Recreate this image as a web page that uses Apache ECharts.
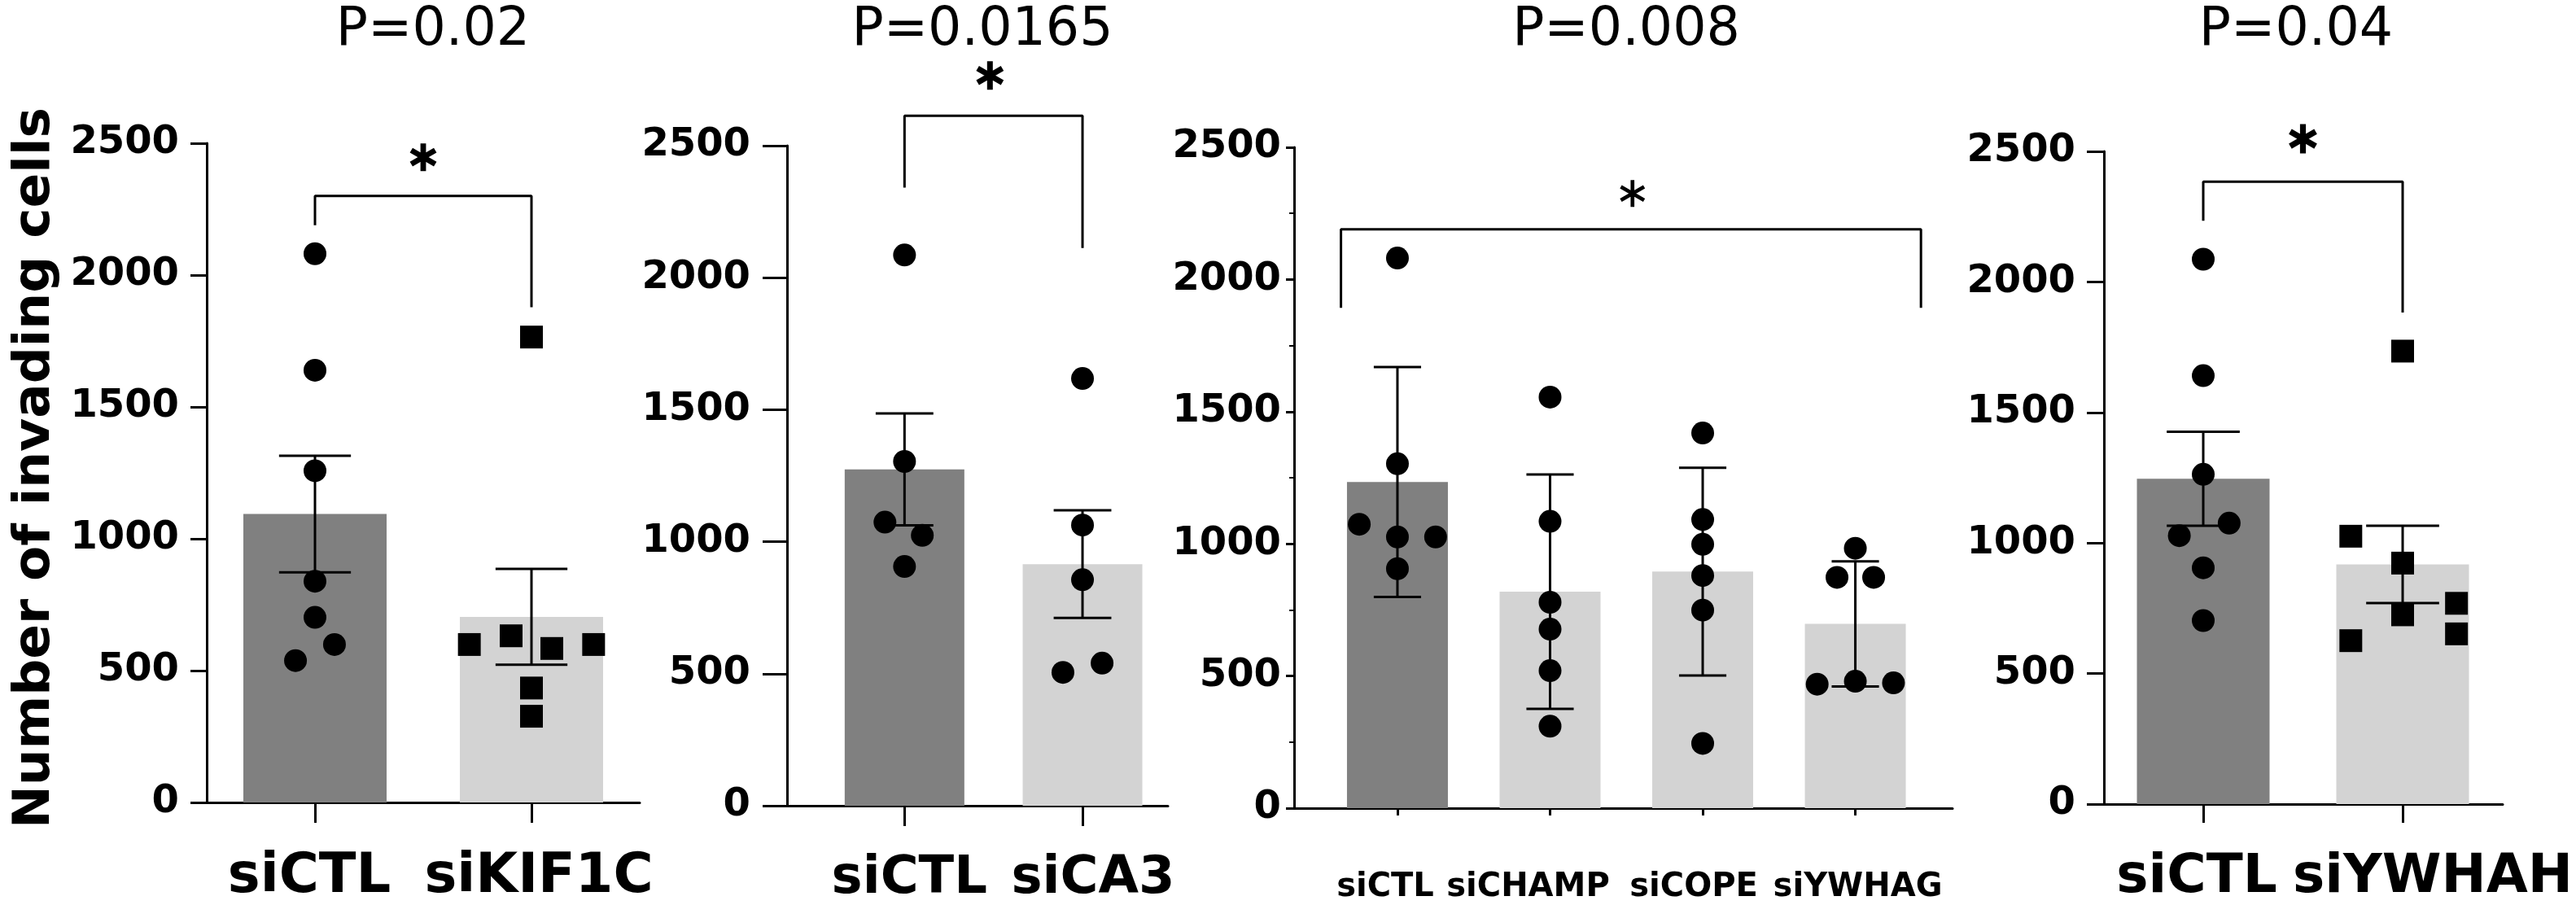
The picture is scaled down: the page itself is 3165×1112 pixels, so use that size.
<!DOCTYPE html>
<html><head><meta charset="utf-8">
<script src="https://cdn.jsdelivr.net/npm/echarts@6/dist/echarts.min.js"></script>
<style>html,body{margin:0;padding:0;background:#fff}#c{width:3165px;height:1112px}</style>
</head><body><div id="c"></div>
<script>
// ---------- DATA ----------
const titles = ['P=0.02', 'P=0.0165', 'P=0.008', 'P=0.04'];
const yTitle = 'Number of invading cells';

// Panel 1
const cats1 = ['siCTL', 'siKIF1C'];
const mean1 = [1094, 704];
const err1 = [221, 182];
const pts1 = [[2081, 1639, 1258, 839, 702, 599, 538], [599, 632, 584, 599, 434, 327, 1765]];
const jit1 = [[0, 0, 0, 0, 0, 0.09, -0.09], [-0.287, -0.094, 0.094, 0.287, 0, 0, 0]];
const bracket1 = [[0, 2189], [0, 2300], [1, 2300], [1, 1878]];
const star1 = [0.5, 2447];

// Panel 2
const cats2 = ['siCTL', 'siCA3'];
const mean2 = [1274, 915];
const err2 = [212, 204];
const pts2 = [[2086, 1304, 1074, 1024, 906], [1618, 1063, 856, 505, 540]];
const jit2 = [[0, 0, -0.11, 0.10, 0], [0, 0, 0, -0.11, 0.11]];
const bracket2 = [[0, 2341], [0, 2613], [1, 2613], [1, 2112]];
const star2 = [0.48, 2766];

// Panel 3
const cats3 = ['siCTL', 'siCHAMP', 'siCOPE', 'siYWHAG'];
const mean3 = [1234, 819, 895, 697];
const err3 = [435, 443, 393, 237];
const pts3 = [[2081, 1303, 1074, 1026, 1026, 906], [1555, 1085, 779, 677, 520, 310],
              [1419, 1092, 998, 880, 749, 245], [983, 873, 873, 469, 480, 474]];
const jit3 = [[0, 0, -0.25, 0, 0.25, 0], [0, 0, 0, 0, 0, 0], [0, 0, 0, 0, 0, 0], [0, -0.12, 0.12, -0.25, 0, 0.25]];
const bracket3 = [[-0.37, 1893], [-0.37, 2190], [3.43, 2190], [3.43, 1893]];
const star3 = [1.54, 2325];

// Panel 4
const cats4 = ['siCTL', 'siYWHAH'];
const mean4 = [1246, 918];
const err4 = [180, 148];
const pts4 = [[2087, 1641, 1263, 1076, 1028, 905, 703], [1735, 1026, 923, 725, 769, 626, 652]];
const jit4 = [[0, 0, 0, 0.13, -0.12, 0, 0], [0, -0.26, 0, 0, 0.27, -0.26, 0.27]];
const bracket4 = [[0, 2234], [0, 2384], [1, 2384], [1, 1883]];
const star4 = [0.5, 2548];

const yTicks = [0, 500, 1000, 1500, 2000, 2500];

// ---------- STYLE / LAYOUT ----------
const FONT = 'DejaVu Sans';
const DARK = '#808080', LIGHT = '#d3d3d3';

function asterisk(hw) {
  let d = '';
  [90, 30, 150].forEach(function (deg) {
    const t = deg * Math.PI / 180;
    const u = [Math.cos(t), Math.sin(t)], n = [-Math.sin(t), Math.cos(t)];
    const pts = [[-1, -1], [1, -1], [1, 1], [-1, 1]].map(function (s) {
      return [50 + s[0] * 50 * u[0] + s[1] * hw * n[0], 50 + s[0] * 50 * u[1] + s[1] * hw * n[1]];
    });
    d += 'M' + pts.map(function (p) { return p[0].toFixed(2) + ',' + p[1].toFixed(2); }).join('L') + 'Z';
  });
  return 'path://' + d;
}

const panels = [
  {cats: cats1, means: mean1, errs: err1, pts: pts1, jit: jit1, marks: ['circle', 'rect'], bracket: bracket1, star: star1,
   grid: {left: 254, top: 176, width: 532, height: 813}, xr: [-0.5, 1.5], bw: 176, lab: 67, shift: [-7, 9], lm: 59,
   yTick: 20, yMargin: 34, xTick: 25, starSize: 34, starHW: 10, titleX: 532, minor: false, cap: 0.166},
  {cats: cats2, means: mean2, errs: err2, pts: pts2, jit: jit2, marks: ['circle', 'circle'], bracket: bracket2, star: star2,
   grid: {left: 967, top: 179, width: 468, height: 814}, xr: [-0.66, 1.48], bw: 147, lab: 64, shift: [6, 13], lm: 58,
   yTick: 30, yMargin: 45, xTick: 25, starSize: 35, starHW: 10, titleX: 1207, minor: false, cap: 0.162},
  {cats: cats3, means: mean3, errs: err3, pts: pts3, jit: jit3, marks: ['circle', 'circle', 'circle', 'circle'], bracket: bracket3, star: star3,
   grid: {left: 1590, top: 181, width: 809, height: 812}, xr: [-0.677, 3.637], bw: 124, lab: 40, shift: [-15, -27, -11, 3], lm: 78,
   yTick: 10, yMargin: 16, xTick: 9, starSize: 33, starHW: 7, titleX: 1998, minor: true, cap: 0.155},
  {cats: cats4, means: mean4, errs: err4, pts: pts4, jit: jit4, marks: ['circle', 'rect'], bracket: bracket4, star: star4,
   grid: {left: 2585, top: 186, width: 490, height: 807}, xr: [-0.498, 1.502], bw: 163, lab: 66, shift: [-8, 37], lm: 58,
   yTick: 21, yMargin: 35, xTick: 23, starSize: 36, starHW: 10, titleX: 2821, minor: false, cap: 0.183}
];

const grids = [], xAxes = [], yAxes = [], series = [], graphics = [];
const axisLine = {show: true, onZero: false, lineStyle: {color: '#000', width: 3}};

panels.forEach(function (P, gi) {
  grids.push(Object.assign({containLabel: false}, P.grid));
  const idx = P.cats.map(function (_, i) { return i; });
  const rich = {};
  P.cats.forEach(function (c, i) {
    const s = P.shift[i];
    rich['s' + i] = {fontFamily: FONT, fontWeight: 'bold', fontSize: P.lab, color: '#000',
      padding: [0, s < 0 ? -2 * s : 0, 0, s > 0 ? 2 * s : 0]};
  });
  xAxes.push({
    type: 'value', gridIndex: gi, min: P.xr[0], max: P.xr[1], position: 'bottom',
    axisLine: axisLine,
    axisTick: {show: true, customValues: idx, length: P.xTick, lineStyle: {color: '#000', width: 3}},
    axisLabel: {show: true, customValues: idx, margin: P.lm, verticalAlign: 'top',
      formatter: function (v) { const i = Math.round(v); return '{s' + i + '|' + P.cats[i] + '}'; },
      rich: rich},
    splitLine: {show: false}
  });
  yAxes.push({
    type: 'value', gridIndex: gi, position: 'left',
    min: yTicks[0], max: yTicks[yTicks.length - 1], interval: yTicks[1] - yTicks[0],
    axisLine: axisLine,
    axisTick: {show: true, length: P.yTick, lineStyle: {color: '#000', width: 3}},
    minorTick: {show: P.minor, splitNumber: 2, length: 6, lineStyle: {color: '#000', width: 2}},
    axisLabel: {margin: P.yMargin, fontFamily: FONT, fontWeight: 'bold', fontSize: 48, color: '#000',
      formatter: function (v) { return String(v); }},
    splitLine: {show: false}
  });
  // bars
  series.push({
    type: 'bar', xAxisIndex: gi, yAxisIndex: gi, barWidth: P.bw, z: 1, silent: true,
    data: P.means.map(function (m, i) { return {value: [i, m], itemStyle: {color: i === 0 ? DARK : LIGHT}}; })
  });
  // error bars
  const cap = P.cap;
  series.push({
    type: 'custom', xAxisIndex: gi, yAxisIndex: gi, z: 3, clip: false, silent: true,
    data: P.means.map(function (m, i) { return [i, m, P.errs[i]]; }),
    renderItem: function (params, api) {
      const x = api.value(0), m = api.value(1), e = api.value(2);
      const t = api.coord([x, m + e]), b = api.coord([x, m - e]);
      const l = api.coord([x - cap, m])[0], r = api.coord([x + cap, m])[0];
      const st = {stroke: '#000', lineWidth: 3, fill: null};
      return {type: 'group', children: [
        {type: 'line', shape: {x1: t[0], y1: t[1], x2: b[0], y2: b[1]}, style: st},
        {type: 'line', shape: {x1: l, y1: t[1], x2: r, y2: t[1]}, style: st},
        {type: 'line', shape: {x1: l, y1: b[1], x2: r, y2: b[1]}, style: st}
      ]};
    }
  });
  // points
  const pdata = [];
  P.pts.forEach(function (arr, i) {
    arr.forEach(function (v, k) {
      pdata.push({value: [i + P.jit[i][k], v], symbol: P.marks[i]});
    });
  });
  series.push({type: 'scatter', xAxisIndex: gi, yAxisIndex: gi, z: 5, clip: false, silent: true,
    symbolSize: 28, itemStyle: {color: '#000', opacity: 1}, data: pdata});
  // significance bracket
  series.push({type: 'line', xAxisIndex: gi, yAxisIndex: gi, z: 4, clip: false, silent: true,
    symbol: 'none', lineStyle: {color: '#000', width: 3, opacity: 1}, data: P.bracket});
  // star
  series.push({type: 'scatter', xAxisIndex: gi, yAxisIndex: gi, z: 6, clip: false, silent: true,
    symbol: asterisk(P.starHW), symbolKeepAspect: true, symbolSize: [P.starSize, P.starSize],
    itemStyle: {color: '#000', opacity: 1}, data: [P.star]});
  // P-value title
  graphics.push({type: 'text', x: P.titleX, y: 38, style: {text: titles[gi], fill: '#000',
    font: 'normal 65px "' + FONT + '"', align: 'center', verticalAlign: 'middle'}});
});

graphics.push({type: 'text', x: 44, y: 575, rotation: Math.PI / 2, style: {text: yTitle, fill: '#000',
  font: 'bold 63px "' + FONT + '"', align: 'center', verticalAlign: 'middle'}});

const chart = echarts.init(document.getElementById('c'), null, {renderer: 'canvas'});
chart.setOption({
  animation: false,
  backgroundColor: '#fff',
  grid: grids, xAxis: xAxes, yAxis: yAxes, series: series, graphic: graphics
});
</script></body></html>
